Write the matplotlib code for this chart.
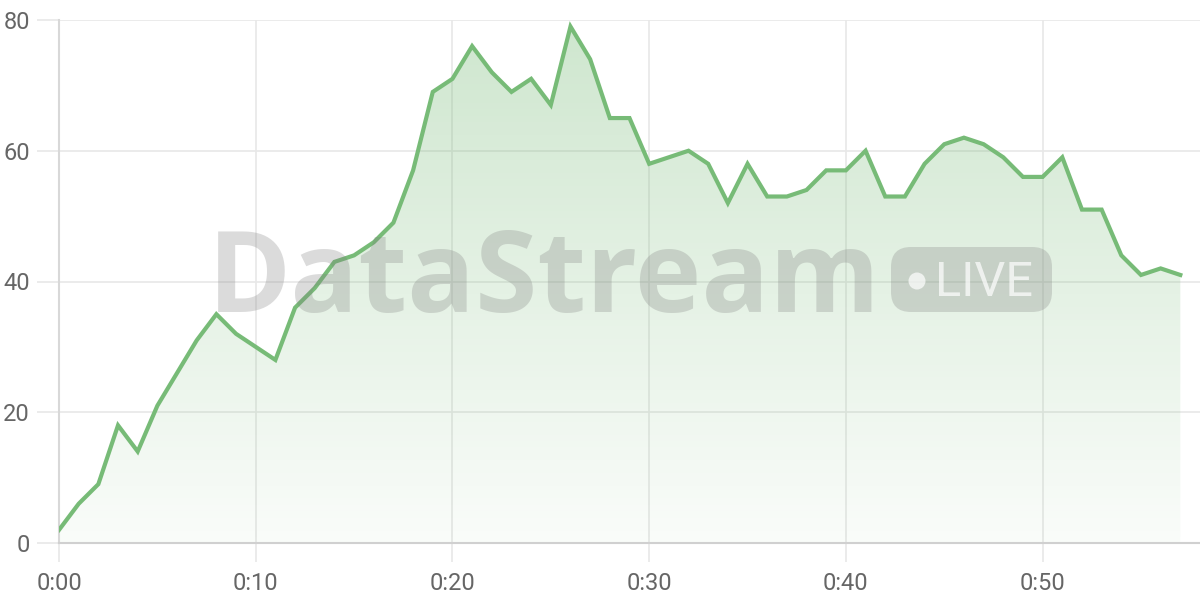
import matplotlib
matplotlib.use("Agg")
import matplotlib.pyplot as plt
import numpy as np
from matplotlib.patches import FancyBboxPatch, Circle
from matplotlib.colors import LinearSegmentedColormap
from matplotlib.transforms import IdentityTransform

# minutes since start and value per minute
minutes = list(range(58))
values = [2, 6, 9, 18, 14, 21, 26, 31, 35, 32, 30, 28, 36, 39, 43, 44, 46, 49, 57, 69,
          71, 76, 72, 69, 71, 67, 79, 74, 65, 65, 58, 59, 60, 58, 52, 58, 53, 53, 54, 57,
          57, 60, 53, 53, 58, 61, 62, 61, 59, 56, 56, 59, 51, 51, 44, 41, 42, 41]
x_ticks = [0, 10, 20, 30, 40, 50]
x_labels = ["0:00", "0:10", "0:20", "0:30", "0:40", "0:50"]
y_ticks = [0, 20, 40, 60, 80]

line_color = "#77bb77"
grid_color = "#e8e8e8"
text_color = "#666666"

plt.rcParams["font.family"] = ["Roboto", "DejaVu Sans"]

fig = plt.figure(figsize=(12, 6), dpi=100)
ax = fig.add_axes([59 / 1200, 1 - 543 / 600, 1 - 59 / 1200, (543 - 20) / 600])
ax.set_xlim(0, 58)
ax.set_ylim(0, 80)

# gradient fill under the line
fill = ax.fill_between(minutes, values, 0, facecolor="none", edgecolor="none")
cmap = LinearSegmentedColormap.from_list(
    "g", [(0.47, 0.73, 0.47, 0.04), (0.47, 0.73, 0.47, 0.36)])
grad = np.linspace(0, 1, 256).reshape(-1, 1)
img = ax.imshow(grad, cmap=cmap, aspect="auto", origin="lower",
                extent=[0, 58, 0, 80], zorder=1)
img.set_clip_path(fill.get_paths()[0], transform=ax.transData)

ax.plot(minutes, values, color=line_color, linewidth=3, zorder=3,
        solid_joinstyle="miter")

# grid + ticks
ax.set_xticks(x_ticks)
ax.set_xticklabels(x_labels)
ax.set_yticks(y_ticks)
ax.grid(True, color=grid_color, linewidth=1.2, zorder=0)
ax.set_axisbelow(True)
for side in ["top", "right"]:
    ax.spines[side].set_visible(False)
ax.spines["left"].set_color("#d8d8d8")
ax.spines["left"].set_linewidth(1.5)
ax.spines["bottom"].set_color("#d0d0d0")
ax.spines["bottom"].set_linewidth(1.5)
ax.tick_params(axis="both", colors=grid_color, width=1.2,
               labelcolor=text_color, labelsize=17)
ax.tick_params(axis="x", length=14, pad=7)
ax.tick_params(axis="y", length=16, pad=5)

# watermark
fig.text(208 / 1200, 1 - 312 / 600, "DataStream", fontsize=81, fontweight="bold",
         family=["Open Sans", "DejaVu Sans"], color="#808080", alpha=0.28,
         va="baseline", ha="left", zorder=5)
badge = FancyBboxPatch((891, 600 - 312), 161, 65,
                       boxstyle="round,pad=0,rounding_size=20",
                       transform=IdentityTransform(), facecolor="#808080",
                       edgecolor="none", alpha=0.28, zorder=5)
fig.patches.append(badge)
dot = Circle((917, 600 - 281), 8.5, transform=IdentityTransform(),
             facecolor="white", edgecolor="none", alpha=0.7, zorder=6)
fig.patches.append(dot)
fig.text(935 / 1200, 1 - 296 / 600, "LIVE", fontsize=35,
         family=["Roboto", "DejaVu Sans"], color="white", alpha=0.7,
         va="baseline", ha="left", zorder=6)

fig.savefig("out.png", dpi=100)
